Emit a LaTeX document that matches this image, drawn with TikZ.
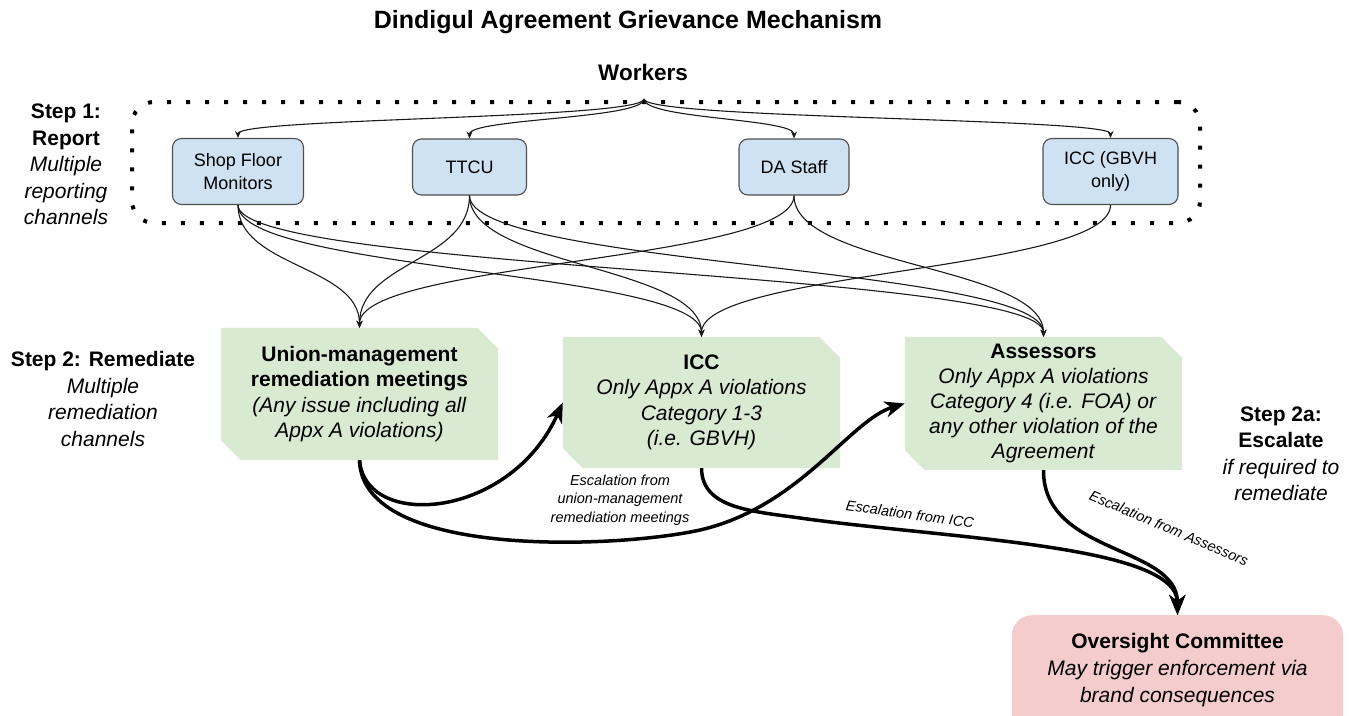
\documentclass[tikz,border=0pt]{standalone}
\usepackage{fontspec}
\setmainfont{Liberation Sans}
\usetikzlibrary{arrows.meta,backgrounds}
\definecolor{chblue}{HTML}{CFE2F3}
\definecolor{chborder}{HTML}{505050}
\definecolor{remgreen}{HTML}{D9EAD3}
\definecolor{ovpink}{HTML}{F4CCCC}
\definecolor{ink}{HTML}{1A1A1A}
\newcommand\myfs[2]{\fontsize{#1}{#2}\selectfont}
\begin{document}
\begin{tikzpicture}[x=1pt,y=-1pt,
  chan/.style={draw=chborder, fill=chblue, rounded corners=9pt, line width=1.1pt, align=center, inner sep=0pt, font=\myfs{18}{23}},
  rem/.style={inner sep=0pt, align=center, font=\myfs{21}{25.5}},
  steplbl/.style={align=center, inner sep=0pt, font=\myfs{21}{26.5}},
  esclbl/.style={align=center, inner sep=0pt, font=\itshape\myfs{14.5}{18.5}},
  dotbox/.style={draw=black, line width=4pt, dash pattern=on 4pt off 15pt, rounded corners=22pt, inner sep=0pt},
  feed/.style={draw=ink, line width=1.1pt, -{Stealth[length=7pt,width=6pt]}},
  escal/.style={draw=black, line width=3.5pt, -{Stealth[length=20pt,width=16pt,inset=6pt]}},
  overbox/.style={fill=ovpink, rounded corners=20pt, inner sep=0pt}
]
\useasboundingbox (0,0) rectangle (1349,715);
\clip (0,0) rectangle (1349,715);

% titles
\node[font=\bfseries\myfs{25}{28}] (title) at (628,22) {Dindigul Agreement Grievance Mechanism};
\node[font=\bfseries\myfs{22.5}{26}] (workers) at (643,72) {Workers};
\coordinate (wk) at (644,99);

% step 1 frame
\node[dotbox, minimum width=1068, minimum height=121] (rbox) at (666,162.5) {};

% step labels
\node[steplbl] (s1) at (66,164.5) {\textbf{Step 1:}\\\textbf{Report}\\\textit{Multiple}\\\textit{reporting}\\\textit{channels}};
\node[steplbl] (s2) at (103,399) {\textbf{Step 2: Remediate}\\\textit{Multiple}\\\textit{remediation}\\\textit{channels}};
\node[steplbl] (s2a) at (1281,454) {\textbf{Step 2a:}\\\textbf{Escalate}\\\textit{if required to}\\\textit{remediate}};

% reporting channels
\node[chan, minimum width=131, minimum height=66] (sfm) at (238,171.5) {Shop Floor\\Monitors};
\node[chan, minimum width=114, minimum height=56] (ttcu) at (469.5,167) {TTCU};
\node[chan, minimum width=110, minimum height=56] (da) at (794,167) {DA Staff};
\node[chan, minimum width=135, minimum height=66] (gbvh) at (1110.5,171.5) {ICC (GBVH\\only)};

% remediation channels
\node[rem, minimum width=277, minimum height=132] (umrm) at (359.5,394) {\textbf{Union-management}\\\textbf{remediation meetings}\\\textit{(Any issue including all}\\\textit{Appx A violations)}};
\node[rem, minimum width=277, minimum height=131] (iccb) at (701.5,402.5) {\textbf{ICC}\\\textit{Only Appx A violations}\\\textit{Category 1-3}\\\textit{(i.e. GBVH)}};
\node[rem, minimum width=277, minimum height=133, font=\myfs{21}{24.8}] (ass) at (1043.5,403.5) {\textbf{Assessors}\\\textit{Only Appx A violations}\\\textit{Category 4 (i.e. FOA) or}\\\textit{any other violation of the}\\\textit{Agreement}};

\begin{scope}[on background layer]
\foreach \n in {umrm,iccb,ass}{
  \fill[remgreen] (\n.north west) -- ([xshift=-21pt]\n.north east) -- ([yshift=-21pt]\n.north east) -- (\n.south east) -- ([xshift=20pt]\n.south west) -- ([yshift=20pt]\n.south west) -- cycle;
}
\end{scope}

% oversight
\node[overbox, minimum width=331, minimum height=160, anchor=north] (over) at (1177.5,615) {};
\node[align=center, inner sep=0pt, font=\myfs{21}{27}] (overtxt) at (1177.5,670) {\textbf{Oversight Committee}\\\textit{May trigger enforcement via}\\\textit{brand consequences}};

% workers to channels
\draw[feed] (wk) .. controls +(0,20) and +(0,-20) .. (sfm.north);
\draw[feed] (wk) .. controls +(0,20) and +(0,-20) .. (ttcu.north);
\draw[feed] (wk) .. controls +(0,20) and +(0,-20) .. (da.north);
\draw[feed] (wk) .. controls +(0,20) and +(0,-20) .. (gbvh.north);

% channels to remediation
\draw[feed] (sfm.south) .. controls +(0,62) and +(0,-62) .. (umrm.north);
\draw[feed] (sfm.south) .. controls +(0,66) and +(0,-66) .. (iccb.north);
\draw[feed] (sfm.south) .. controls +(0,66) and +(0,-66) .. (ass.north);
\draw[feed] (ttcu.south) .. controls +(0,66) and +(0,-66) .. (umrm.north);
\draw[feed] (ttcu.south) .. controls +(0,71) and +(0,-71) .. (iccb.north);
\draw[feed] (ttcu.south) .. controls +(0,71) and +(0,-71) .. (ass.north);
\draw[feed] (da.south) .. controls +(0,66) and +(0,-66) .. (umrm.north);
\draw[feed] (da.south) .. controls +(0,71) and +(0,-71) .. (ass.north);
\draw[feed] (gbvh.south) .. controls +(0,66) and +(0,-66) .. (iccb.north);

% escalation
\draw[escal] (umrm.south) .. controls (365,530) and (510,520) .. (iccb.west);
\draw[escal] (umrm.south) .. controls (362,560) and (620,548) .. (700,530) .. controls (800,507) and (850,420) .. (ass.west);
\draw[escal] (iccb.south) .. controls (702,508) and (750,511) .. (800,518) .. controls (950,539) and (1177,545) .. (over.north);
\draw[escal] (ass.south) .. controls (1043,555) and (1177,545) .. (over.north);

% escalation labels
\node[esclbl] (e1) at (620,500) {Escalation from\\union-management\\remediation meetings};
\node[esclbl, rotate=-8] (e2) at (910,514) {Escalation from ICC};
\node[esclbl, rotate=-23] (e3) at (1169,528) {Escalation from Assessors};
\end{tikzpicture}
\end{document}
